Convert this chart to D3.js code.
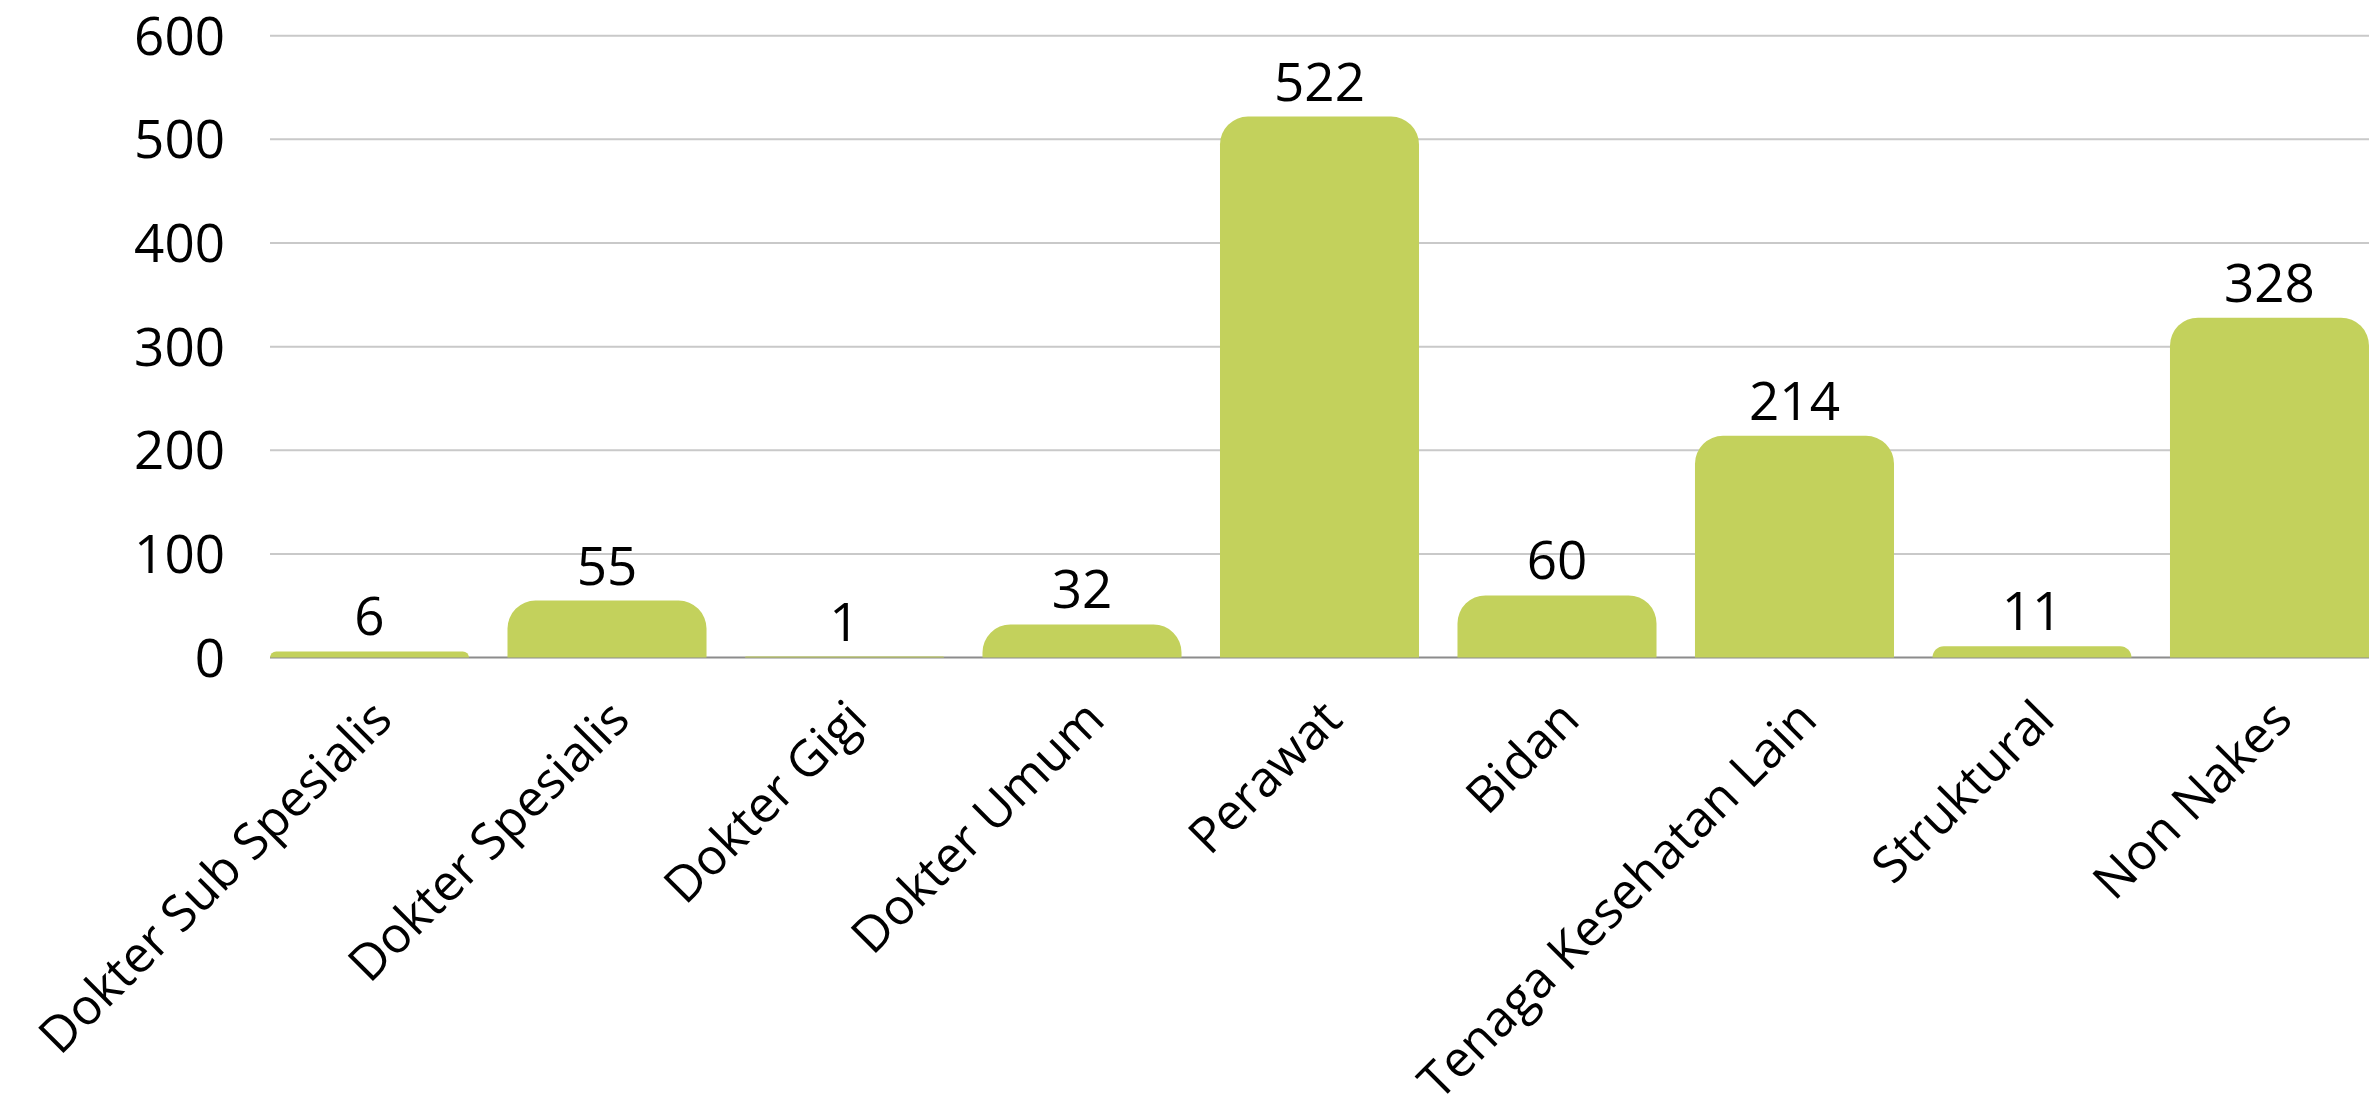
<!DOCTYPE html>
<html>
<head>
<meta charset="utf-8">
<script src="https://cdn.jsdelivr.net/npm/d3@7.9.0/dist/d3.min.js"></script>
<style>
  html, body { margin: 0; padding: 0; background: #fff; }
  svg { display: block; font-family: "Open Sans", sans-serif; }
</style>
</head>
<body>
<svg id="chart" width="2379" height="1107"></svg>
<script>
// categories and values
const categories = ['Dokter Sub Spesialis', 'Dokter Spesialis', 'Dokter Gigi', 'Dokter Umum',
  'Perawat', 'Bidan', 'Tenaga Kesehatan Lain', 'Struktural', 'Non Nakes'];
const values = [6, 55, 1, 32, 522, 60, 214, 11, 328];
const yTicks = [0, 100, 200, 300, 400, 500, 600];

const svg = d3.select('#chart');

const x = d3.scaleBand()
  .domain(categories)
  .range([270, 2369])
  .paddingInner(0.162)
  .paddingOuter(0);

const y = d3.scaleLinear()
  .domain([0, 600])
  .range([657.6, 35.7]);

const barColor = '#c3d15c';

// gridlines
svg.append('g')
  .selectAll('line')
  .data(yTicks.filter(d => d > 0))
  .join('line')
  .attr('x1', 270).attr('x2', 2369)
  .attr('y1', d => y(d)).attr('y2', d => y(d))
  .attr('stroke', '#c9c9c9')
  .attr('stroke-width', 2);

// baseline
svg.append('line')
  .attr('x1', 270).attr('x2', 2369)
  .attr('y1', y(0)).attr('y2', y(0))
  .attr('stroke', '#8c8c8c')
  .attr('stroke-width', 2);

// y tick labels
svg.append('g')
  .selectAll('text')
  .data(yTicks)
  .join('text')
  .attr('x', 225)
  .attr('y', d => y(d))
  .attr('dy', '0.36em')
  .attr('text-anchor', 'end')
  .attr('font-size', 53)
  .attr('fill', '#000')
  .text(d => d);

// bars with rounded tops
function roundedTop(x0, y0, w, h, r) {
  r = Math.min(r, h, w / 2);
  const yb = y0 + h;
  return `M${x0},${yb} L${x0},${y0 + r} A${r},${r} 0 0 1 ${x0 + r},${y0}` +
    ` L${x0 + w - r},${y0} A${r},${r} 0 0 1 ${x0 + w},${y0 + r} L${x0 + w},${yb} Z`;
}

const data = categories.map((c, i) => ({ label: c, value: values[i] }));

svg.append('g')
  .selectAll('path')
  .data(data)
  .join('path')
  .attr('d', d => roundedTop(x(d.label), y(d.value), x.bandwidth(), y(0) - y(d.value), 28))
  .attr('fill', barColor);

// value labels
svg.append('g')
  .selectAll('text')
  .data(data)
  .join('text')
  .attr('x', d => x(d.label) + x.bandwidth() / 2)
  .attr('y', d => y(d.value) - 16)
  .attr('text-anchor', 'middle')
  .attr('font-size', 53)
  .attr('fill', '#000')
  .text(d => d.value);

// rotated category labels
svg.append('g')
  .selectAll('text')
  .data(categories)
  .join('text')
  .attr('transform', d => `translate(${x(d) + x.bandwidth() / 2 + 25},722) rotate(-45)`)
  .attr('text-anchor', 'end')
  .attr('font-size', 50)
  .attr('fill', '#000')
  .text(d => d);
</script>
</body>
</html>
